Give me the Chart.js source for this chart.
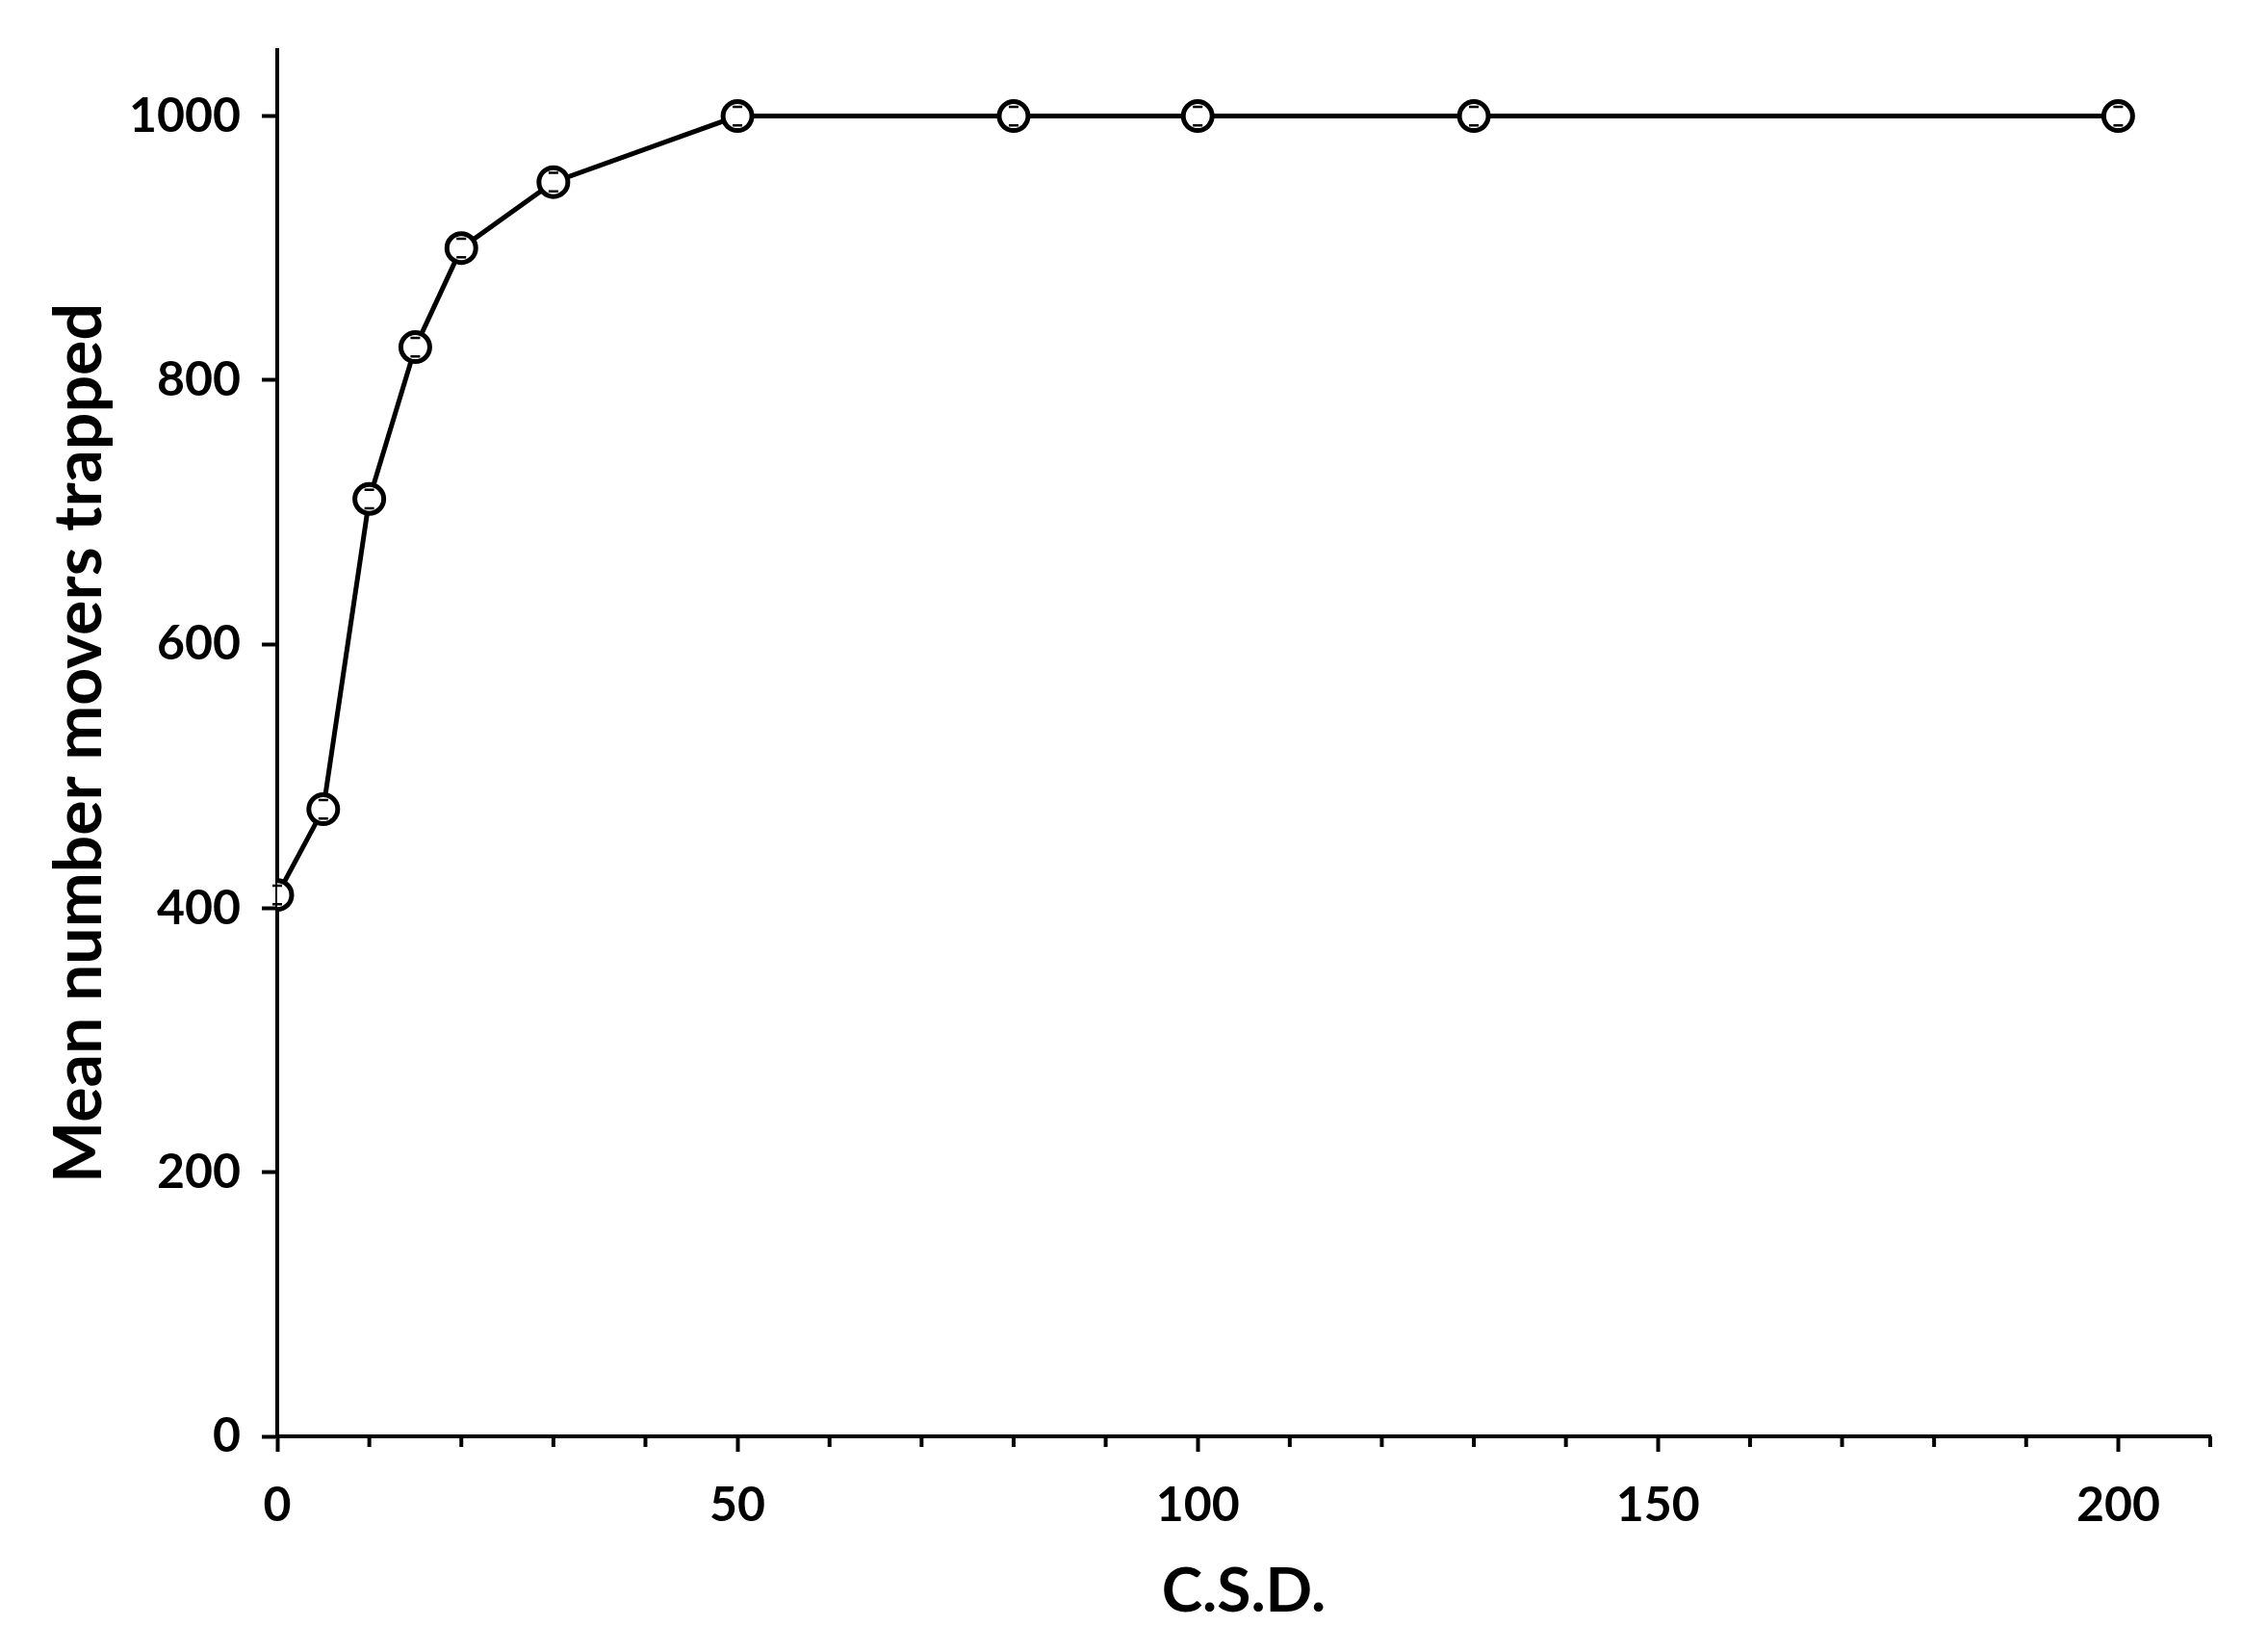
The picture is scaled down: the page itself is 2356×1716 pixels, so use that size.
<!DOCTYPE html>
<html>
<head>
<meta charset="utf-8">
<script src="https://cdn.jsdelivr.net/npm/chart.js@4.4.1/dist/chart.umd.min.js"></script>
<style>
    html, body { margin: 0; padding: 0; background: #fff; }
    #wrap { width: 2356px; height: 1716px; }
</style>
</head>
<body>
<div id="wrap"><canvas id="grafico"></canvas></div>
<script>
// dados
const csd = [0, 5, 10, 15, 20, 30, 50, 80, 100, 130, 200]
const trapped = [410, 475, 710, 825, 900, 950, 1000, 1000, 1000, 1000, 1000]
const erro = [7, 7, 7, 7, 7, 7, 7, 7, 7, 7, 7]
const yTicks = [0, 200, 400, 600, 800, 1000]

const fonte = 'Lato, "Open Sans", sans-serif'

// tracinhos menores no eixo x e barras de erro
const extras = {
    id: 'extras',
    afterDatasetsDraw(chart) {
        const ctx = chart.ctx
        const x = chart.scales.x
        const y = chart.scales.y
        ctx.save()
        ctx.strokeStyle = '#000'
        ctx.lineWidth = 2.5
        csd.forEach((v, i) => {
            const px = x.getPixelForValue(v)
            const top = y.getPixelForValue(trapped[i] + erro[i])
            const bot = y.getPixelForValue(trapped[i] - erro[i])
            ctx.beginPath()
            ctx.moveTo(px - 5, top); ctx.lineTo(px + 5, top)
            ctx.moveTo(px - 5, bot); ctx.lineTo(px + 5, bot)
            ctx.stroke()
        })
        ctx.lineWidth = 4
        const base = chart.chartArea.bottom
        x.ticks.forEach(t => {
            if (t.value % 50 !== 0) {
                const px = x.getPixelForValue(t.value)
                ctx.beginPath()
                ctx.moveTo(px, base); ctx.lineTo(px, base + 11)
                ctx.stroke()
            }
        })
        ctx.restore()
    }
}

let ctx = document.getElementById('grafico').getContext('2d')

let grafico = new Chart(ctx, {
    type: 'line',
    data: {
        datasets: [{
            data: csd.map((v, i) => ({ x: v, y: trapped[i] })),
            borderColor: '#000',
            borderWidth: 5,
            pointRadius: 15,
            pointBorderWidth: 5,
            pointBackgroundColor: '#fff',
            pointBorderColor: '#000',
            tension: 0,
        }]
    },
    plugins: [extras],
    options: {
        responsive: true,
        maintainAspectRatio: false,
        animation: false,
        layout: {
            padding: { left: 38, top: 52, right: 60, bottom: 20 }
        },
        plugins: {
            legend: { display: false },
            tooltip: { enabled: false },
        },
        scales: {
            x: {
                type: 'linear',
                min: 0,
                max: 210,
                afterFit: s => { s.height = 204 },
                ticks: {
                    stepSize: 10,
                    autoSkip: false,
                    maxRotation: 0,
                    color: '#000',
                    padding: 26,
                    font: { family: fonte, size: 50, weight: 'bold' },
                    callback: v => v % 50 === 0 ? String(v) : '',
                },
                grid: {
                    drawOnChartArea: false,
                    tickLength: 16,
                    tickWidth: 4,
                    tickColor: c => c.tick && c.tick.value % 50 === 0 ? '#000' : 'rgba(0,0,0,0)',
                },
                border: { color: '#000', width: 4 },
                title: {
                    display: true,
                    text: 'C.S.D.',
                    color: '#000',
                    font: { family: fonte, size: 64, weight: 'bold' },
                    padding: { top: 12 },
                },
            },
            y: {
                min: 0,
                max: 1050,
                afterFit: s => { s.width = 250 },
                afterBuildTicks: s => { s.ticks = yTicks.map(v => ({ value: v })) },
                ticks: {
                    color: '#000',
                    padding: 22,
                    font: { family: fonte, size: 50, weight: 'bold' },
                    callback: v => String(v),
                },
                grid: {
                    drawOnChartArea: false,
                    tickLength: 16,
                    tickWidth: 4,
                    tickColor: '#000',
                },
                border: { color: '#000', width: 4 },
                title: {
                    display: true,
                    text: 'Mean number movers trapped',
                    color: '#000',
                    font: { family: fonte, size: 68, weight: 'bold' },
                    padding: { bottom: 10 },
                },
            },
        },
    },
})
</script>
</body>
</html>
